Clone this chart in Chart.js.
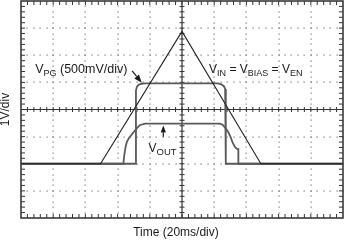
<!DOCTYPE html>
<html>
<head>
<meta charset="utf-8">
<script src="https://cdn.jsdelivr.net/npm/chart.js@4"></script>
<style>
html,body{margin:0;padding:0;background:#fff;}
#wrap{width:344px;height:242px;position:relative;}
</style>
</head>
<body>
<div id="wrap"><canvas id="c" width="344" height="242"></canvas></div>
<script>
// Time axis in divisions (20 ms/div), voltage axis in divisions
const xDivs = 10;
const yDivs = 8;
const xTitle = 'Time (20ms/div)';
const yTitle = '1V/div';

// V_IN = V_BIAS = V_EN (triangle ramp)
const vinX = [0, 2.47, 5.0, 7.45, 10];
const vinY = [2, 2, 6.88, 2, 2];

// V_PG (500mV/div)
const vpgX = [0, 3.57, 3.57, 3.60, 3.66, 3.75, 3.85, 6.12, 6.22, 6.30, 6.34, 6.36, 6.36, 10];
const vpgY = [2, 2, 4.70, 4.84, 4.92, 4.95, 4.96, 4.96, 4.93, 4.86, 4.76, 4.60, 2, 2];

// V_OUT
const voutX = [0, 3.18, 3.21, 3.25, 3.29, 3.36, 3.44, 3.52, 3.60, 3.70, 3.86, 6.18, 6.26, 6.31, 6.38, 6.44, 6.51, 6.57, 6.65, 6.72, 6.75, 6.75, 10];
const voutY = [2, 2, 2.35, 2.63, 2.82, 2.96, 3.08, 3.20, 3.31, 3.43, 3.48, 3.48, 3.44, 3.37, 3.27, 3.16, 2.98, 2.79, 2.61, 2.54, 2.54, 2.0, 2];

const pts = (xs, ys) => xs.map((v, i) => ({x: v, y: ys[i]}));

const FONT = '"Liberation Sans", Arial, Helvetica, sans-serif';

function drawSubText(ctx, parts, x, y, size, subSize) {
  let cx = x;
  for (const [t, sub] of parts) {
    ctx.font = (sub ? subSize : size) + 'px ' + FONT;
    ctx.fillText(t, cx, sub ? y + 3 : y);
    cx += ctx.measureText(t).width;
  }
}

function arrow(ctx, x1, y1, x2, y2, head, w) {
  const ang = Math.atan2(y2 - y1, x2 - x1);
  const bx = x2 - head * Math.cos(ang), by = y2 - head * Math.sin(ang);
  ctx.beginPath();
  ctx.moveTo(x1, y1);
  ctx.lineTo(bx, by);
  ctx.stroke();
  ctx.beginPath();
  ctx.moveTo(x2, y2);
  ctx.lineTo(bx + w * Math.sin(ang), by - w * Math.cos(ang));
  ctx.lineTo(bx - w * Math.sin(ang), by + w * Math.cos(ang));
  ctx.closePath();
  ctx.fill();
}

const graticule = {
  id: 'graticule',
  beforeDatasetsDraw(chart) {
    const {ctx, chartArea: a, scales: {x, y}} = chart;
    ctx.save();
    // dotted grid
    ctx.fillStyle = '#777';
    for (let i = 1; i < xDivs; i++) {
      if (i === xDivs / 2) continue;
      const px = Math.round(x.getPixelForValue(i));
      for (let j = 0; j <= yDivs * 5; j++) {
        const py = Math.round(y.getPixelForValue(j / 5));
        ctx.fillRect(px - 0.5, py - 0.5, 1.2, 1.2);
      }
    }
    for (let j = 1; j < yDivs; j++) {
      if (j === yDivs / 2) continue;
      const py = Math.round(y.getPixelForValue(j));
      for (let i = 0; i <= xDivs * 5; i++) {
        const px = Math.round(x.getPixelForValue(i / 5));
        ctx.fillRect(px - 0.5, py - 0.5, 1.2, 1.2);
      }
    }
    // center cross
    ctx.strokeStyle = '#333';
    ctx.lineWidth = 1.2;
    const cx = x.getPixelForValue(xDivs / 2), cy = y.getPixelForValue(yDivs / 2);
    ctx.beginPath();
    ctx.moveTo(cx, a.top); ctx.lineTo(cx, a.bottom);
    ctx.moveTo(a.left, cy); ctx.lineTo(a.right, cy);
    ctx.stroke();
    ctx.lineWidth = 1;
    ctx.beginPath();
    for (let i = 1; i < xDivs * 5; i++) {
      const px = x.getPixelForValue(i / 5);
      ctx.moveTo(px, cy - 2.5); ctx.lineTo(px, cy + 2.5);
      ctx.moveTo(px, a.top); ctx.lineTo(px, a.top + 4);
      ctx.moveTo(px, a.bottom); ctx.lineTo(px, a.bottom - 4);
    }
    for (let j = 1; j < yDivs * 5; j++) {
      const py = y.getPixelForValue(j / 5);
      ctx.moveTo(cx - 2.5, py); ctx.lineTo(cx + 2.5, py);
      ctx.moveTo(a.left, py); ctx.lineTo(a.left + 4, py);
      ctx.moveTo(a.right, py); ctx.lineTo(a.right - 4, py);
    }
    ctx.stroke();
    // frame
    ctx.lineWidth = 1.6;
    ctx.strokeStyle = '#3a3a3a';
    ctx.strokeRect(a.left, a.top, a.right - a.left, a.bottom - a.top);
    ctx.restore();
  },
  afterDraw(chart) {
    const {ctx, chartArea: a, scales: {x, y}} = chart;
    ctx.save();
    ctx.fillStyle = '#1a1a1a';
    ctx.textBaseline = 'alphabetic';
    drawSubText(ctx, [['V', 0], ['PG', 1], [' (500mV/div)', 0]], x.getPixelForValue(0.44), y.getPixelForValue(5.35), 12.5, 9);
    drawSubText(ctx, [['V', 0], ['IN', 1], [' = V', 0], ['BIAS', 1], [' = V', 0], ['EN', 1]], x.getPixelForValue(5.84), y.getPixelForValue(5.35), 12, 9);
    drawSubText(ctx, [['V', 0], ['OUT', 1]], x.getPixelForValue(3.96), y.getPixelForValue(2.42), 12, 9.5);
    ctx.strokeStyle = '#1a1a1a';
    ctx.lineWidth = 1.2;
    arrow(ctx, x.getPixelForValue(3.45), y.getPixelForValue(5.42), x.getPixelForValue(3.75), y.getPixelForValue(4.99), 8, 3);
    arrow(ctx, x.getPixelForValue(4.42), y.getPixelForValue(3.0), x.getPixelForValue(4.42), y.getPixelForValue(3.41), 7, 2.6);
    // axis titles
    ctx.font = '12px ' + FONT;
    ctx.textAlign = 'center';
    ctx.fillText(xTitle, 176, 236);
    ctx.translate(6, (a.top + a.bottom) / 2);
    ctx.rotate(-Math.PI / 2);
    ctx.textBaseline = 'middle';
    ctx.font = '12px ' + FONT;
    ctx.fillText(yTitle, 0, 0);
    ctx.restore();
  }
};

new Chart(document.getElementById('c'), {
  type: 'scatter',
  data: {
    datasets: [
      {label: 'V_IN = V_BIAS = V_EN', data: pts(vinX, vinY), showLine: true, borderColor: '#222', borderWidth: 1.1, pointRadius: 0, tension: 0},
      {label: 'V_PG (500mV/div)', data: pts(vpgX, vpgY), showLine: true, borderColor: '#5a5a5a', borderWidth: 1.8, pointRadius: 0, tension: 0},
      {label: 'V_OUT', data: pts(voutX, voutY), showLine: true, borderColor: '#5a5a5a', borderWidth: 1.8, pointRadius: 0, tension: 0}
    ]
  },
  options: {
    responsive: false,
    animation: false,
    events: [],
    layout: {padding: {left: 21, right: 1, top: 1, bottom: 24}},
    plugins: {legend: {display: false}, tooltip: {enabled: false}},
    scales: {
      x: {type: 'linear', min: 0, max: xDivs, display: false},
      y: {type: 'linear', min: 0, max: yDivs, display: false}
    }
  },
  plugins: [graticule]
});
</script>
</body>
</html>
